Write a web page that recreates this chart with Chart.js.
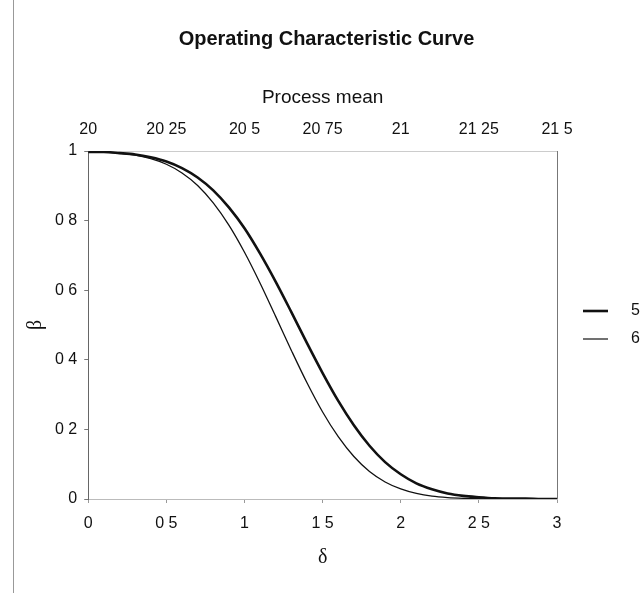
<!DOCTYPE html>
<html>
<head>
<meta charset="utf-8">
<script src="https://cdn.jsdelivr.net/npm/chart.js@4"></script>
<style>
  html, body { margin: 0; padding: 0; background: #fff; }
  #wrap { position: relative; width: 641px; height: 593px; }
  #wrap:before { content: ""; position: absolute; left: 13px; top: 0; bottom: 0; border-left: 1px solid #999; }
</style>
</head>
<body>
<div id="wrap"><canvas id="canvas" width="641" height="593"></canvas></div>
<script>
// delta values along the bottom axis
const deltas = [0, 0.1, 0.2, 0.3, 0.4, 0.5, 0.6, 0.7, 0.8, 0.9, 1.0,
    1.1, 1.2, 1.3, 1.4, 1.5, 1.6, 1.7, 1.8, 1.9, 2.0,
    2.1, 2.2, 2.3, 2.4, 2.5, 2.6, 2.7, 2.8, 2.9, 3.0];

// beta, n = 5 (thick) and n = 6 (thin)
const beta5 = [0.997, 0.997, 0.994, 0.990, 0.982, 0.970, 0.951, 0.924, 0.887, 0.838, 0.778,
    0.705, 0.624, 0.537, 0.448, 0.362, 0.282, 0.212, 0.153, 0.106, 0.071,
    0.045, 0.028, 0.016, 0.009, 0.005, 0.002, 0.001, 0.001, 0.000, 0.000];
const beta6 = [0.997, 0.997, 0.994, 0.988, 0.978, 0.962, 0.937, 0.901, 0.851, 0.787, 0.709,
    0.620, 0.524, 0.427, 0.334, 0.250, 0.179, 0.122, 0.079, 0.049, 0.029,
    0.016, 0.008, 0.004, 0.002, 0.001, 0.000, 0.000, 0.000, 0.000, 0.000];

const seriesNames = ["5", "6"];
const meanTicks = [20, 20.25, 20.5, 20.75, 21, 21.25, 21.5];

// the scan lost the decimal points, labels read "0 5", "20 25"
const spaced = v => String(v).replace(".", " ");

// legend sample: short line with blank space on both sides
function legendMark(width) {
    const c = document.createElement("canvas");
    c.width = 54;
    c.height = 8;
    const g = c.getContext("2d");
    g.strokeStyle = "#111";
    g.lineWidth = width;
    g.beginPath();
    g.moveTo(14, 4);
    g.lineTo(39, 4);
    g.stroke();
    return c;
}

const edgeLines = {
    id: "edgeLines",
    afterDraw(chart) {
        const {ctx, chartArea: a} = chart;
        ctx.save();
        ctx.strokeStyle = "#777";
        ctx.lineWidth = 1;
        ctx.beginPath();
        ctx.moveTo(Math.round(a.right) + 0.5, a.top);
        ctx.lineTo(Math.round(a.right) + 0.5, a.bottom);
        ctx.stroke();
        ctx.restore();
    }
};

const sans = "Liberation Sans";
const serif = "Liberation Serif";

let ctx = document.getElementById("canvas").getContext("2d");
let myChart = new Chart(ctx, {
    type: "line",
    data: {
        datasets: [{
            label: seriesNames[0],
            data: deltas.map((d, i) => ({x: d, y: beta5[i]})),
            borderColor: "#111",
            backgroundColor: "#111",
            borderWidth: 2.6,
            pointRadius: 0,
            pointStyle: legendMark(2.6),
            cubicInterpolationMode: "monotone"
        }, {
            label: seriesNames[1],
            data: deltas.map((d, i) => ({x: d, y: beta6[i]})),
            borderColor: "#111",
            backgroundColor: "#111",
            borderWidth: 1.3,
            pointRadius: 0,
            pointStyle: legendMark(1.2),
            cubicInterpolationMode: "monotone"
        }]
    },
    options: {
        responsive: false,
        animation: false,
        layout: {padding: {left: 12, right: 0, top: 0, bottom: 23}},
        plugins: {
            title: {
                display: true,
                text: "Operating Characteristic Curve",
                color: "#111",
                font: {family: sans, size: 20, weight: "bold"},
                padding: {top: 27, bottom: 35.6}
            },
            legend: {
                position: "right",
                fullSize: false,
                maxWidth: 84,
                labels: {
                    usePointStyle: true,
                    pointStyleWidth: 54,
                    boxHeight: 16,
                    padding: 12,
                    color: "#111",
                    font: {family: sans, size: 16}
                }
            },
            tooltip: {enabled: false}
        },
        scales: {
            x: {
                type: "linear",
                position: "bottom",
                min: 0,
                max: 3,
                ticks: {stepSize: 0.5, callback: spaced, color: "#111", padding: 11.4,
                    font: {family: sans, size: 16}},
                grid: {drawOnChartArea: false, tickLength: 4, color: "#999"},
                border: {color: "#bbb", dash: [2, 3]},
                title: {display: true, text: "δ", color: "#111",
                    font: {family: serif, size: 20}, padding: {top: 1, bottom: 0}}
            },
            x2: {
                type: "linear",
                position: "top",
                min: meanTicks[0],
                max: meanTicks[meanTicks.length - 1],
                afterBuildTicks: axis => { axis.ticks = meanTicks.map(v => ({value: v})); },
                ticks: {callback: spaced, color: "#111", padding: 8,
                    font: {family: sans, size: 16}},
                grid: {display: false, tickLength: 4},
                border: {color: "#ccc", dash: [2, 3]},
                title: {display: true, text: "Process mean", color: "#111",
                    font: {family: sans, size: 19}, padding: {top: 0, bottom: 2.4}}
            },
            y: {
                min: 0,
                max: 1,
                ticks: {stepSize: 0.2, callback: spaced, color: "#111", padding: 7,
                    font: {family: sans, size: 16}},
                grid: {drawOnChartArea: false, tickLength: 4, color: "#777"},
                border: {color: "#666"},
                title: {display: true, text: "β", color: "#111",
                    font: {family: serif, size: 20}, padding: {top: 12, bottom: 0}}
            }
        }
    },
    plugins: [edgeLines]
});
</script>
</body>
</html>
